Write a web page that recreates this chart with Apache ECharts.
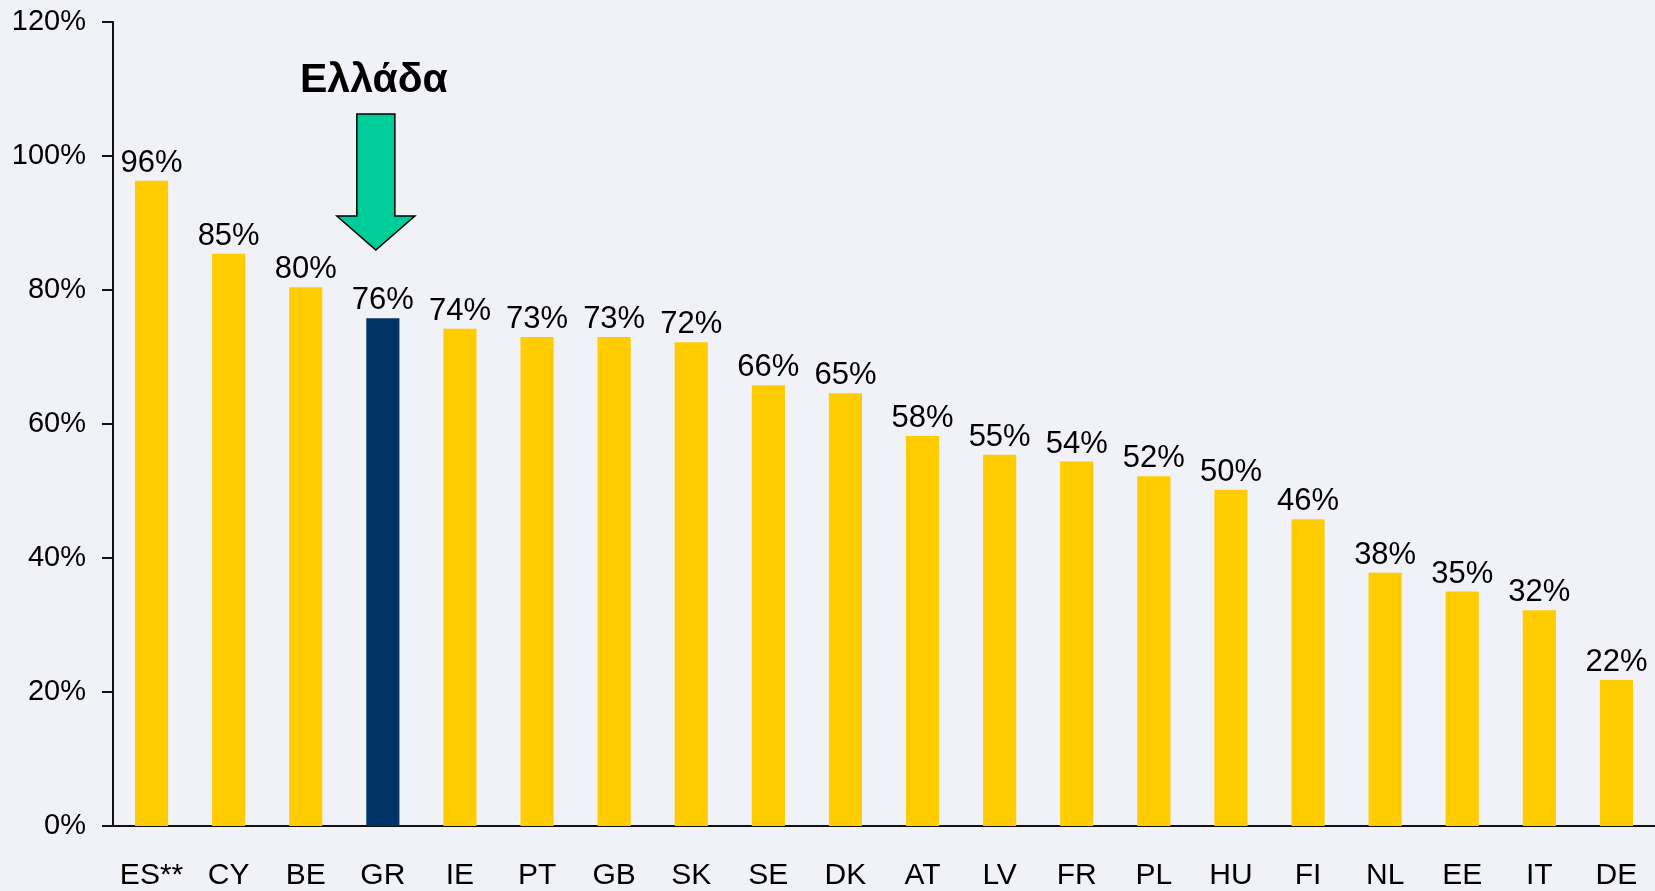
<!DOCTYPE html>
<html>
<head>
<meta charset="utf-8">
<script src="https://cdn.jsdelivr.net/npm/echarts@6/dist/echarts.min.js"></script>
<style>
html,body{margin:0;padding:0;background:#f1f2f7;}
#chart{width:1655px;height:891px;}
</style>
</head>
<body>
<div id="chart"></div>
<script>
const categories = ['ES**','CY','BE','GR','IE','PT','GB','SK','SE','DK','AT','LV','FR','PL','HU','FI','NL','EE','IT','DE'];
const values = [96.3,85.4,80.4,75.8,74.2,73.0,73.0,72.2,65.8,64.6,58.2,55.4,54.4,52.2,50.2,45.8,37.8,35.0,32.2,21.8];
const highlight = 'GR';
const yTicks = [0,20,40,60,80,100,120];
const annotationText = 'Ελλάδα';

const chart = echarts.init(document.getElementById('chart'));
const font = 'Liberation Sans, Arial, sans-serif';

const option = {
  backgroundColor: '#f1f2f7',
  animation: false,
  grid: {left: 113, right: 0, top: 22, bottom: 64, containLabel: false},
  xAxis: {
    type: 'category',
    data: categories,
    axisLine: {lineStyle: {color: '#111', width: 2}},
    axisTick: {show: false},
    axisLabel: {color: '#000', fontFamily: font, fontSize: 30, margin: 35, interval: 0}
  },
  yAxis: {
    type: 'value',
    min: yTicks[0],
    max: yTicks[yTicks.length - 1],
    interval: 20,
    axisLine: {show: true, lineStyle: {color: '#111', width: 2}},
    axisTick: {show: true, length: 11, lineStyle: {color: '#111', width: 2}},
    splitLine: {show: false},
    axisLabel: {color: '#000', fontFamily: font, fontSize: 29, margin: 27, formatter: v => v + '%'}
  },
  series: [{
    type: 'bar',
    barWidth: '43%',
    data: values.map((v, i) => ({
      value: v,
      itemStyle: {color: categories[i] === highlight ? '#003366' : '#ffcc00'}
    })),
    label: {
      show: true,
      position: 'top',
      distance: 2,
      color: '#000',
      fontFamily: font,
      fontSize: 31,
      formatter: p => Math.round(p.value) + '%'
    }
  }]
};
chart.setOption(option);

// Annotation anchored to the highlighted bar
const idx = categories.indexOf(highlight);
const base = chart.convertToPixel({xAxisIndex: 0, yAxisIndex: 0}, [idx, 0]);
const cx = base[0] - 7;
const yTop = 114, yShaft = 216, yTip = 250;
chart.setOption({
  graphic: [
    {
      type: 'polygon',
      shape: {points: [
        [cx - 19, yTop], [cx + 19, yTop], [cx + 19, yShaft], [cx + 39, yShaft],
        [cx, yTip], [cx - 39, yShaft], [cx - 19, yShaft]
      ]},
      style: {fill: '#00cc99', stroke: '#000', lineWidth: 1.5}
    },
    {
      type: 'text',
      x: cx - 2,
      y: 81,
      style: {
        text: annotationText,
        fontFamily: font,
        fontWeight: 'bold',
        fontSize: 41,
        fill: '#000',
        align: 'center',
        verticalAlign: 'middle'
      }
    }
  ]
});
</script>
</body>
</html>
